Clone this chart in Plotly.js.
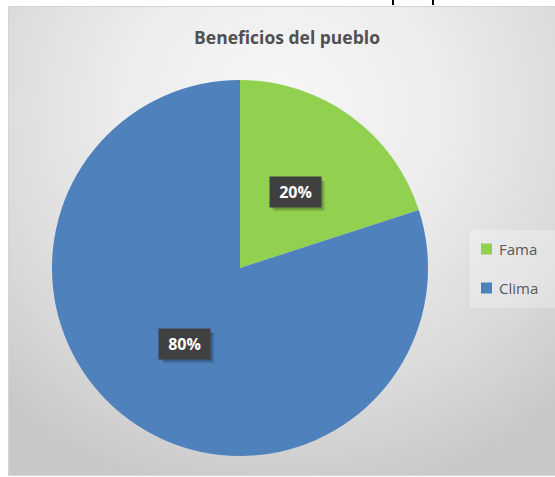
<!DOCTYPE html>
<html>
<head>
<meta charset="utf-8">
<script src="https://cdn.plot.ly/plotly-3.0.1.min.js"></script>
<style>
  html, body { margin: 0; padding: 0; background: #ffffff; }
  #bg {
    position: absolute; left: 8px; top: 6px; width: 546px; height: 468px;
    border: 1px solid #d4d4d4;
    background: radial-gradient(ellipse 75% 85% at 50% 22%, #f7f7f7 0%, #ececec 40%, #d9d9d9 75%, #c8c8c8 100%);
  }
  #plot { position: absolute; left: 0; top: 0; width: 555px; height: 477px; }
  .tick { position: absolute; top: 0; width: 2px; height: 5px; background: #000; }
</style>
</head>
<body>
<div id="bg"></div>
<div class="tick" style="left:392px"></div>
<div class="tick" style="left:432px"></div>
<div id="plot"></div>
<script>
const categories = ["Fama", "Clima"];
const values = [20, 80];
const sliceColors = ["#92d050", "#4f81bd"];
const chartTitle = "Beneficios del pueblo";

const W = 555, H = 477;
const FONT = "'Open Sans', 'DejaVu Sans', sans-serif";
const domX = [52 / W, 428 / W];
const domY = [(H - 456) / H, (H - 80) / H];
const px = v => v / W;          // horizontal pixel -> paper
const py = v => 1 - v / H;      // vertical pixel (from top) -> paper

// percentage labels, positioned from the data (clockwise from 12 o'clock, at half radius)
const total = values.reduce((a, b) => a + b, 0);
const cx = (domX[0] + domX[1]) / 2, cy = (domY[0] + domY[1]) / 2;
const rx = (domX[1] - domX[0]) / 2, ry = (domY[1] - domY[0]) / 2;
let cum = 0;
const annotations = [];
const shapes = [];
values.forEach((v, i) => {
  const mid = (cum + v / 2) / total * 2 * Math.PI;
  cum += v;
  const x = cx + 0.5 * rx * Math.sin(mid);
  const y = cy + 0.5 * ry * Math.cos(mid);
  const txt = Math.round(v / total * 100) + "%";
  // soft drop shadow behind the label box
  [[4, 0.12], [2.5, 0.16]].forEach(([o, a]) => {
    shapes.push({ type: "rect", xref: "paper", yref: "paper", layer: "above",
      x0: x + (o - 25.5) / W, x1: x + (o + 25.5) / W,
      y0: y - (o + 15) / H, y1: y - (o - 15) / H,
      fillcolor: "rgba(0,0,0," + a + ")", line: { width: 0 } });
  });
  annotations.push({ xref: "paper", yref: "paper", x: x, y: y, xanchor: "center", yanchor: "middle",
    showarrow: false, width: 49, height: 28, borderpad: 1,
    text: "<b>" + txt + "</b>",
    font: { family: FONT, size: 16, color: "#ffffff" }, bgcolor: "#404040" });
});

// legend drawn from the categories and colours
shapes.push({ type: "rect", xref: "paper", yref: "paper", x0: px(470), x1: px(556), y0: py(230), y1: py(308),
  fillcolor: "rgba(255,255,255,0.28)", line: { width: 0 }, layer: "below" });
categories.forEach((c, i) => {
  const yc = 249 + i * 39;
  shapes.push({ type: "rect", xref: "paper", yref: "paper",
    x0: px(481), x1: px(492), y0: py(yc - 5.5), y1: py(yc + 5.5),
    fillcolor: sliceColors[i], line: { width: 0 } });
  annotations.push({ xref: "paper", yref: "paper", x: px(497), y: py(yc), xanchor: "left", yanchor: "middle",
    text: c, showarrow: false, font: { family: FONT, size: 15, color: "#595959" } });
});

const data = [{
  type: "pie",
  labels: categories,
  values: values,
  marker: { colors: sliceColors, line: { width: 0 } },
  sort: false,
  direction: "clockwise",
  rotation: 0,
  textinfo: "none",
  hoverinfo: "none",
  showlegend: false,
  domain: { x: domX, y: domY }
}];

const layout = {
  width: W, height: H,
  margin: { l: 0, r: 0, t: 0, b: 0 },
  paper_bgcolor: "rgba(0,0,0,0)",
  plot_bgcolor: "rgba(0,0,0,0)",
  title: {
    text: "<b>" + chartTitle + "</b>",
    x: px(287), xanchor: "center", y: py(38), yanchor: "middle",
    font: { family: FONT, size: 17.5, color: "#505050" }
  },
  showlegend: false,
  shapes: shapes,
  annotations: annotations
};

Plotly.newPlot("plot", data, layout, { displayModeBar: false, staticPlot: true });
</script>
</body>
</html>
